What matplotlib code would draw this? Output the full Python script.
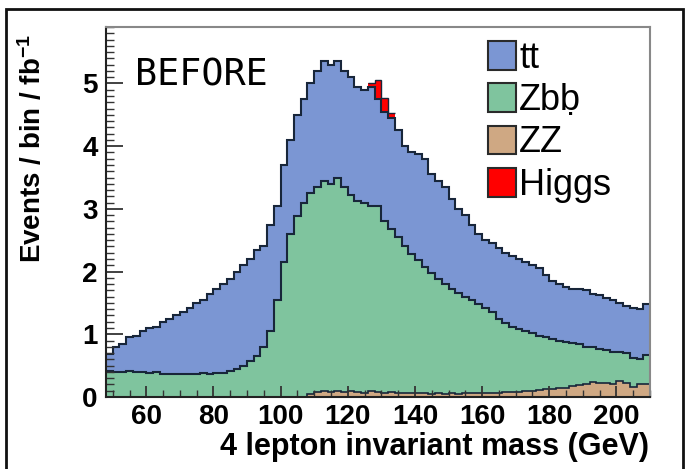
import numpy as np
import matplotlib.pyplot as plt
from matplotlib.patches import Patch, Rectangle
from matplotlib.ticker import MultipleLocator

plt.rcParams['font.family'] = ['Liberation Sans', 'DejaVu Sans']
plt.rcParams['font.weight'] = 'bold'
plt.rcParams['mathtext.fontset'] = 'custom'
plt.rcParams['mathtext.rm'] = 'Liberation Sans:bold'
plt.rcParams['mathtext.bf'] = 'Liberation Sans:bold'
plt.rcParams['mathtext.default'] = 'bf'

# 2 GeV bins from 48 to 210 GeV
bin_edges = np.arange(48, 212, 2)

# stacked heights (top of each layer)
total_bkg = [0.68, 0.80, 0.85, 0.95, 0.98, 1.05, 1.10, 1.12, 1.20, 1.25,
             1.30, 1.35, 1.42, 1.50, 1.55, 1.65, 1.72, 1.80, 1.88, 2.00,
             2.10, 2.20, 2.35, 2.40, 2.75, 3.05, 3.70, 4.10, 4.50, 4.75,
             5.00, 5.20, 5.35, 5.30, 5.35, 5.20, 5.10, 4.95, 4.90, 4.95,
             4.75, 4.55, 4.45, 4.25, 4.00, 3.90, 3.88, 3.80, 3.55, 3.45,
             3.35, 3.15, 3.00, 2.90, 2.75, 2.60, 2.50, 2.45, 2.38, 2.30,
             2.25, 2.20, 2.15, 2.10, 2.05, 1.95, 1.85, 1.80, 1.75, 1.72,
             1.72, 1.70, 1.65, 1.62, 1.58, 1.55, 1.50, 1.45, 1.42, 1.40,
             1.48]
zbb_top = [0.42, 0.40, 0.40, 0.42, 0.40, 0.40, 0.38, 0.40, 0.37, 0.36,
           0.36, 0.37, 0.36, 0.37, 0.38, 0.37, 0.39, 0.38, 0.42, 0.44,
           0.50, 0.58, 0.66, 0.80, 1.05, 1.55, 2.15, 2.60, 2.88, 3.10,
           3.25, 3.35, 3.45, 3.40, 3.50, 3.35, 3.22, 3.12, 3.10, 3.05,
           3.05, 2.80, 2.68, 2.55, 2.40, 2.28, 2.18, 2.08, 1.98, 1.88,
           1.80, 1.72, 1.66, 1.60, 1.55, 1.48, 1.42, 1.35, 1.25, 1.18,
           1.12, 1.08, 1.05, 1.02, 0.98, 0.95, 0.92, 0.90, 0.88, 0.86,
           0.85, 0.80, 0.80, 0.76, 0.75, 0.72, 0.72, 0.70, 0.62, 0.60,
           0.67]
zz = [0.00, 0.00, 0.00, 0.00, 0.00, 0.00, 0.00, 0.00, 0.00, 0.00,
      0.00, 0.00, 0.00, 0.00, 0.00, 0.00, 0.00, 0.00, 0.00, 0.00,
      0.00, 0.00, 0.00, 0.00, 0.00, 0.00, 0.00, 0.00, 0.00, 0.00,
      0.04, 0.08, 0.09, 0.08, 0.09, 0.08, 0.09, 0.08, 0.07, 0.09,
      0.08, 0.07, 0.08, 0.07, 0.07, 0.06, 0.07, 0.06, 0.05, 0.06,
      0.05, 0.06, 0.05, 0.06, 0.06, 0.07, 0.06, 0.07, 0.07, 0.08,
      0.08, 0.08, 0.09, 0.10, 0.11, 0.12, 0.13, 0.14, 0.14, 0.17,
      0.19, 0.20, 0.24, 0.22, 0.22, 0.20, 0.25, 0.22, 0.16, 0.20,
      0.21]
# higgs signal sits on top of the background in a few bins
higgs_edges = [126, 128, 130, 132, 134]
higgs = [0.06, 0.30, 0.22, 0.08]

labels = ['tt', 'Zbḅ', 'ZZ', 'Higgs']
colors = ['#7b96d3', '#7fc49e', '#cfa883', '#ff0000']
line_col = '#18263a'

total_bkg = np.array(total_bkg)
zbb_top = np.array(zbb_top)
zz = np.array(zz)
i0 = np.searchsorted(bin_edges, higgs_edges[0])
higgs_base = total_bkg[i0:i0 + len(higgs)]

fig = plt.figure(figsize=(6.88, 4.69), dpi=100)
ax = fig.add_axes([106/688, 1 - 397/469, 544/688, 370/469])

ax.stairs(zz, bin_edges, baseline=0, fill=True, color=colors[2], lw=0)
ax.stairs(zbb_top, bin_edges, baseline=zz, fill=True, color=colors[1], lw=0)
ax.stairs(total_bkg, bin_edges, baseline=zbb_top, fill=True, color=colors[0], lw=0)
ax.stairs(higgs_base + higgs, higgs_edges, baseline=higgs_base, fill=True,
          color=colors[3], lw=0)

ax.stairs(higgs_base + higgs, higgs_edges, baseline=None, color=line_col, lw=1.0)
ax.stairs(total_bkg, bin_edges, baseline=None, color=line_col, lw=1.5)
ax.stairs(zbb_top, bin_edges, baseline=None, color=line_col, lw=1.5)
ax.stairs(zz, bin_edges, baseline=None, color=line_col, lw=1.2)

ax.set_xlim(48, 210)
ax.set_ylim(0, 5.9)
ax.xaxis.set_major_locator(MultipleLocator(20))
ax.xaxis.set_minor_locator(MultipleLocator(5))
ax.yaxis.set_major_locator(MultipleLocator(1))
ax.yaxis.set_minor_locator(MultipleLocator(0.1))
ax.set_xticks([60, 80, 100, 120, 140, 160, 180, 200])
ax.tick_params(direction='in', which='both', labelsize=20, color='#333333')
ax.tick_params(axis='y', which='major', length=12, width=1.3, pad=6)
ax.tick_params(axis='y', which='minor', length=6, width=1.0)
ax.tick_params(axis='x', which='major', length=8, width=1.3, pad=5)
ax.tick_params(axis='x', which='minor', length=5, width=1.0)

for side in ['left', 'bottom']:
    ax.spines[side].set_color('#222222')
    ax.spines[side].set_linewidth(1.5)
for side in ['top', 'right']:
    ax.spines[side].set_color('#888888')
    ax.spines[side].set_linewidth(1.5)

fig.text(33/688, 1 - 148/469, 'Events / bin / fb$^{-1}$', rotation=90,
         ha='center', va='center', fontsize=20, fontweight='bold')
fig.text(649/688, 1 - 447/469, '4 lepton invariant mass (GeV)',
         ha='right', va='center', fontsize=22, fontweight='bold')

ax.text(135/688, 1 - 85/469, 'BEFORE', transform=fig.transFigure,
        family='DejaVu Sans Mono', fontweight='normal', fontsize=26.5,
        ha='left', va='baseline')

handles = [Patch(facecolor=c, edgecolor='#2a2a2a', linewidth=1.5, label=l)
           for c, l in zip(colors, labels)]
ax.legend(handles=handles, loc='upper left',
          bbox_to_anchor=(488/688, 1 - 41/469), bbox_transform=fig.transFigure,
          frameon=False, borderpad=0, borderaxespad=0,
          prop={'family': ['Liberation Sans', 'DejaVu Sans'],
                'weight': 'normal', 'size': 26},
          handlelength=0.78, handleheight=0.85, handletextpad=0.08,
          labelspacing=0.2)

# outer frame round the whole picture
fig.add_artist(Rectangle((6/688, -0.05), 677/688, 1 - 9/469 + 0.05,
                         transform=fig.transFigure, fill=False,
                         lw=2, ec='#111111'))

fig.savefig('out.png', dpi=100)
